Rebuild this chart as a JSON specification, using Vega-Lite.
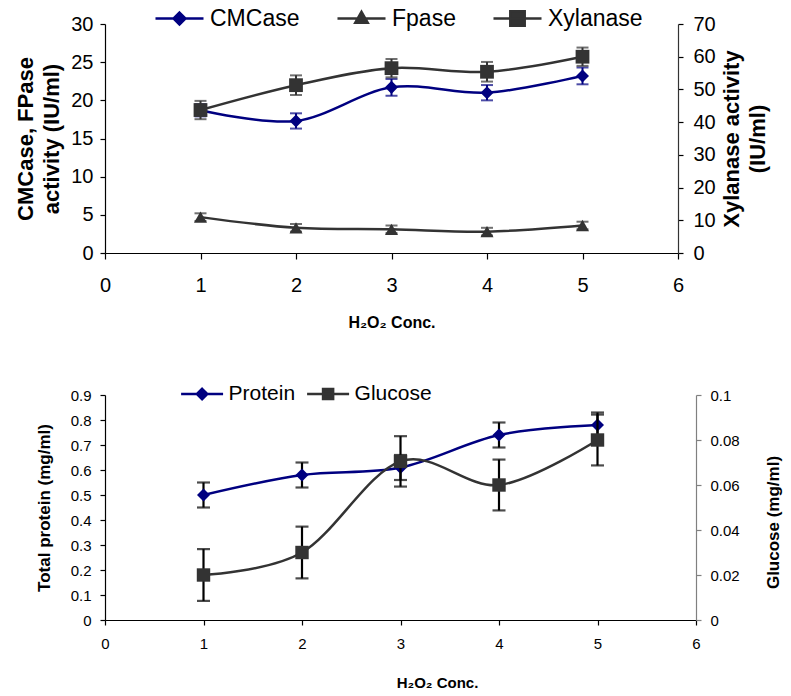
{
  "$schema": "https://vega.github.io/schema/vega-lite/v6.json",
  "padding": {"left": 14, "top": 7, "right": 5, "bottom": 5},
  "spacing": 53,
  "config": {
    "view": {"stroke": null},
    "font": "Liberation Sans",
    "axis": {"grid": false, "domainColor": "black", "tickColor": "black", "labelColor": "black", "titleColor": "black", "labelFont": "Liberation Sans", "titleFont": "Liberation Sans", "titleFontWeight": "bold", "domainWidth": 1.2, "tickWidth": 1.2, "labelOverlap": false},
    "legend": {"labelFont": "Liberation Sans", "labelColor": "black", "padding": 0, "gridAlign": "none"}
  },
  "resolve": {"scale": {"color": "independent", "shape": "independent"}, "legend": {"color": "independent", "shape": "independent"}},
  "datasets": {
    "top": [
      {"x": 1, "s": "CMCase", "ax": "L", "v": 18.7, "e": 0.8},
      {"x": 2, "s": "CMCase", "ax": "L", "v": 17.3, "e": 1.0},
      {"x": 3, "s": "CMCase", "ax": "L", "v": 21.7, "e": 1.1},
      {"x": 4, "s": "CMCase", "ax": "L", "v": 21.0, "e": 1.0},
      {"x": 5, "s": "CMCase", "ax": "L", "v": 23.2, "e": 1.1},
      {"x": 1, "s": "Fpase", "ax": "L", "v": 4.7, "e": 0.5},
      {"x": 2, "s": "Fpase", "ax": "L", "v": 3.3, "e": 0.5},
      {"x": 3, "s": "Fpase", "ax": "L", "v": 3.1, "e": 0.5},
      {"x": 4, "s": "Fpase", "ax": "L", "v": 2.8, "e": 0.5},
      {"x": 5, "s": "Fpase", "ax": "L", "v": 3.6, "e": 0.5},
      {"x": 1, "s": "Xylanase", "ax": "R", "v": 43.7, "e": 2.8},
      {"x": 2, "s": "Xylanase", "ax": "R", "v": 51.3, "e": 3.0},
      {"x": 3, "s": "Xylanase", "ax": "R", "v": 56.5, "e": 2.8},
      {"x": 4, "s": "Xylanase", "ax": "R", "v": 55.4, "e": 3.0},
      {"x": 5, "s": "Xylanase", "ax": "R", "v": 60.0, "e": 2.8}
    ],
    "bottom": [
      {"x": 1, "s": "Protein", "ax": "L", "v": 0.50, "e": 0.05},
      {"x": 2, "s": "Protein", "ax": "L", "v": 0.58, "e": 0.05},
      {"x": 3, "s": "Protein", "ax": "L", "v": 0.61, "e": 0.05},
      {"x": 4, "s": "Protein", "ax": "L", "v": 0.74, "e": 0.05},
      {"x": 5, "s": "Protein", "ax": "L", "v": 0.78, "e": 0.05},
      {"x": 1, "s": "Glucose", "ax": "R", "v": 0.020, "e": 0.0115},
      {"x": 2, "s": "Glucose", "ax": "R", "v": 0.030, "e": 0.0115},
      {"x": 3, "s": "Glucose", "ax": "R", "v": 0.0705, "e": 0.0112},
      {"x": 4, "s": "Glucose", "ax": "R", "v": 0.060, "e": 0.0113},
      {"x": 5, "s": "Glucose", "ax": "R", "v": 0.080, "e": 0.0113}
    ]
  },
  "vconcat": [
    {
      "width": 573,
      "height": 229,
      "data": {"name": "top"},
      "encoding": {
        "x": {"field": "x", "type": "quantitative", "scale": {"domain": [0, 6]}, "axis": {"values": [0, 1, 2, 3, 4, 5, 6], "format": "d", "tickSize": 6, "labelPadding": 16, "labelFontSize": 20, "labelFlush": false, "title": "H₂O₂ Conc.", "titleFontSize": 16, "titlePadding": 19}}
      },
      "layer": [
        {
          "transform": [{"filter": "datum.ax === 'L'"}],
          "encoding": {
            "y": {"field": "v", "type": "quantitative", "scale": {"domain": [0, 30]}, "axis": {"values": [0, 5, 10, 15, 20, 25, 30], "tickSize": 5, "labelPadding": 7, "labelFontSize": 20, "title": ["CMCase, FPase", "activity (IU/ml)"], "titleFontSize": 22, "titleLineHeight": 26, "titlePadding": 7}},
            "color": {"field": "s", "type": "nominal", "scale": {"domain": ["CMCase", "Fpase", "Xylanase"], "range": ["#000080", "#333333", "#333333"]},
              "legend": {"title": null, "orient": "none", "legendX": 63, "legendY": -17, "direction": "horizontal", "labelFontSize": 23, "symbolSize": 369, "labelOffset": 19, "columnPadding": 32,
                "encode": {"symbols": {"update": {
                  "shape": {"signal": "datum.value === 'CMCase' ? 'M-2.5,0H2.5M0,-0.62L0.62,0L0,0.62L-0.62,0Z' : datum.value === 'Fpase' ? 'M-2.5,0H2.5M0,-0.7L0.65,0.45L-0.65,0.45Z' : 'M-2.5,0H2.5M-0.75,-0.75H0.75V0.75H-0.75Z'"},
                  "fill": {"signal": "datum.value === 'CMCase' ? '#000080' : '#333333'"},
                  "stroke": {"signal": "datum.value === 'CMCase' ? '#000080' : '#333333'"},
                  "strokeWidth": {"value": 2.5},
                  "opacity": {"value": 1}
                }}}}}
          },
          "layer": [
            {"mark": {"type": "line", "interpolate": "cardinal", "tension": 0, "strokeWidth": 2.5}},
            {"mark": {"type": "errorbar", "ticks": true, "size": 12, "thickness": 2}, "encoding": {"yError": {"field": "e"}}},
            {"mark": {"type": "point", "filled": true, "opacity": 1, "size": 170}, "encoding": {"shape": {"field": "s", "type": "nominal", "scale": {"domain": ["CMCase", "Fpase"], "range": ["diamond", "triangle-up"]}, "legend": null}}}
          ]
        },
        {
          "transform": [{"filter": "datum.ax === 'R'"}],
          "encoding": {
            "y": {"field": "v", "type": "quantitative", "scale": {"domain": [0, 70]}, "axis": {"orient": "right", "values": [0, 10, 20, 30, 40, 50, 60, 70], "tickSize": 5, "labelPadding": 10, "labelFontSize": 20, "domainColor": "#333333", "title": ["Xylanase activity", "(IU/ml)"], "titleAngle": 270, "titleBaseline": "top", "titleFontSize": 22, "titleLineHeight": 26, "titlePadding": -20}},
            "color": {"field": "s", "type": "nominal"}
          },
          "layer": [
            {"mark": {"type": "line", "interpolate": "cardinal", "tension": 0, "strokeWidth": 2.5}},
            {"mark": {"type": "errorbar", "ticks": true, "size": 12, "thickness": 2}, "encoding": {"yError": {"field": "e"}}},
            {"mark": {"type": "point", "shape": "square", "filled": true, "opacity": 1, "size": 190}}
          ]
        }
      ],
      "resolve": {"scale": {"y": "independent"}}
    },
    {
      "width": 591,
      "height": 225,
      "data": {"name": "bottom"},
      "encoding": {
        "x": {"field": "x", "type": "quantitative", "scale": {"domain": [0, 6]}, "axis": {"values": [0, 1, 2, 3, 4, 5, 6], "format": "d", "tickSize": 5, "labelPadding": 11, "labelFontSize": 15, "labelFlush": false, "title": "H₂O₂ Conc.", "titleFontSize": 15, "titlePadding": 24, "titleX": 332}}
      },
      "layer": [
        {
          "transform": [{"filter": "datum.ax === 'L'"}],
          "encoding": {
            "y": {"field": "v", "type": "quantitative", "scale": {"domain": [0, 0.9]}, "axis": {"values": [0, 0.1, 0.2, 0.3, 0.4, 0.5, 0.6, 0.7, 0.8, 0.9], "format": "~g", "tickSize": 5, "labelPadding": 9, "labelFontSize": 15, "title": "Total protein (mg/ml)", "titleFontSize": 17, "titlePadding": 17}},
            "color": {"field": "s", "type": "nominal", "scale": {"domain": ["Protein", "Glucose"], "range": ["#000080", "#333333"]},
              "legend": {"title": null, "orient": "none", "legendX": 86.6, "legendY": -11.5, "direction": "horizontal", "labelFontSize": 21, "symbolSize": 282, "labelOffset": 16, "columnPadding": 6,
                "encode": {"symbols": {"update": {
                  "shape": {"signal": "datum.value === 'Protein' ? 'M-2.5,0H2.5M0,-0.62L0.62,0L0,0.62L-0.62,0Z' : 'M-2.5,0H2.5M-0.6,-0.6H0.6V0.6H-0.6Z'"},
                  "fill": {"signal": "datum.value === 'Protein' ? '#000080' : '#333333'"},
                  "stroke": {"signal": "datum.value === 'Protein' ? '#000080' : '#333333'"},
                  "strokeWidth": {"value": 2.5},
                  "opacity": {"value": 1}
                }}}}}
          },
          "layer": [
            {"mark": {"type": "line", "interpolate": "cardinal", "tension": 0, "strokeWidth": 2.5}},
            {"mark": {"type": "errorbar", "ticks": true, "size": 13, "thickness": 2.2}, "encoding": {"yError": {"field": "e"}, "color": {"value": "black"}}},
            {"mark": {"type": "point", "shape": "diamond", "filled": true, "opacity": 1, "size": 170}}
          ]
        },
        {
          "transform": [{"filter": "datum.ax === 'R'"}],
          "encoding": {
            "y": {"field": "v", "type": "quantitative", "scale": {"domain": [0, 0.1]}, "axis": {"orient": "right", "values": [0, 0.02, 0.04, 0.06, 0.08, 0.1], "format": "~g", "tickSize": 5, "labelPadding": 9, "labelFontSize": 15, "domainColor": "#808080", "tickColor": "#808080", "title": "Glucose (mg/ml)", "titleAngle": 270, "titleBaseline": "top", "titleFontSize": 17, "titlePadding": 26, "titleY": 127}},
            "color": {"field": "s", "type": "nominal"}
          },
          "layer": [
            {"mark": {"type": "line", "interpolate": "cardinal", "tension": 0, "strokeWidth": 2.5}},
            {"mark": {"type": "errorbar", "ticks": true, "size": 13, "thickness": 2.2}, "encoding": {"yError": {"field": "e"}, "color": {"value": "black"}}},
            {"mark": {"type": "point", "shape": "square", "filled": true, "opacity": 1, "size": 180}}
          ]
        }
      ],
      "resolve": {"scale": {"y": "independent"}}
    }
  ]
}
